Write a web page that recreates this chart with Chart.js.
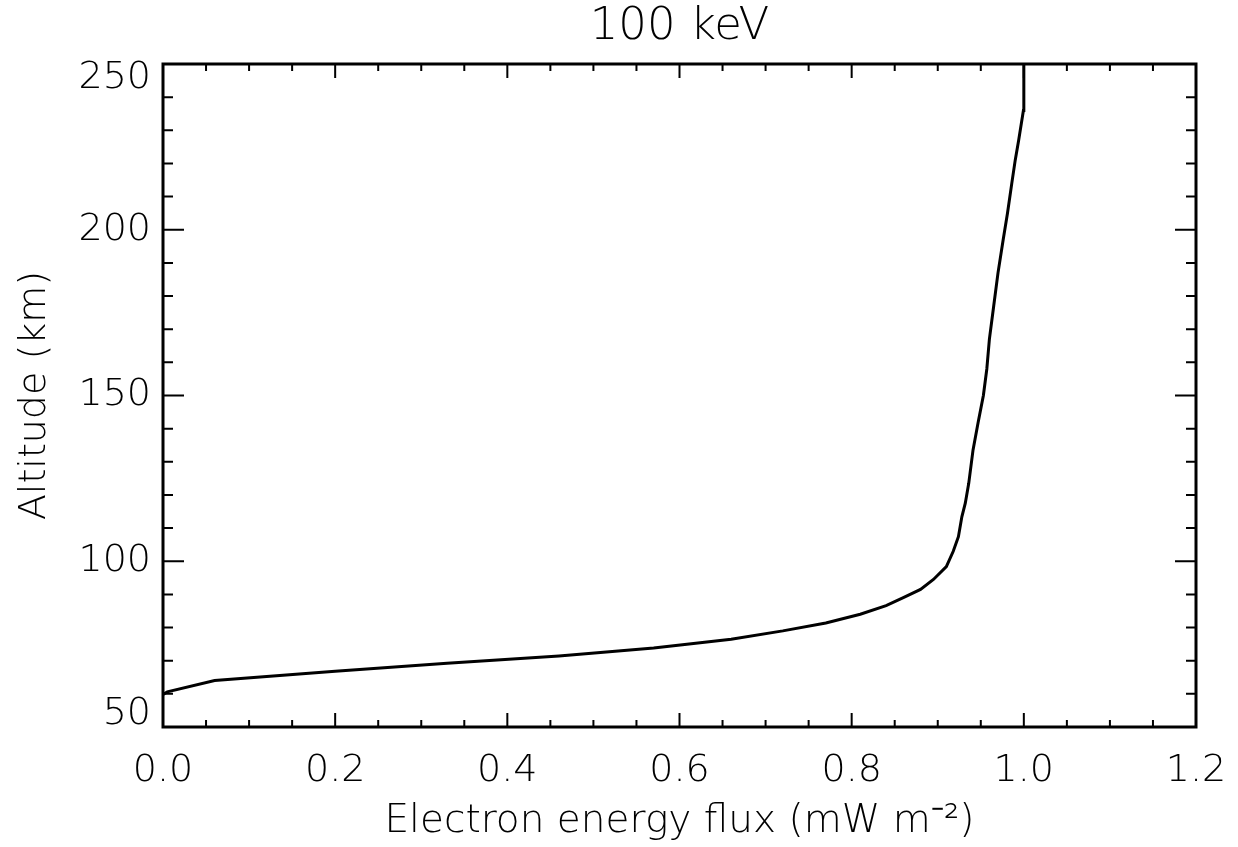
<!DOCTYPE html>
<html>
<head>
<meta charset="utf-8">
<script src="https://cdn.jsdelivr.net/npm/chart.js@4/dist/chart.umd.min.js"></script>
<style>
  html, body { margin: 0; padding: 0; background: #fff; }
  #wrap { width: 1238px; height: 847px; }
</style>
</head>
<body>
<div id="wrap"><canvas id="fluxChart"></canvas></div>
<script>
// energy flux profile, 100 keV beam
const flux = [0.0, 0.005, 0.06, 0.2, 0.33, 0.46, 0.57, 0.66, 0.72, 0.77, 0.81, 0.84, 0.86, 0.88, 0.895,
  0.91, 0.918, 0.924, 0.928, 0.932, 0.936, 0.941, 0.947, 0.953, 0.957, 0.960, 0.965, 0.970, 0.976,
  0.981, 0.986, 0.990, 0.994, 0.9995, 1.0];
const altitude = [59.8, 60.6, 64.0, 66.8, 69.2, 71.4, 73.8, 76.5, 79.0, 81.4, 84.0, 86.6, 89.0, 91.5, 94.5,
  98.4, 103, 107.4, 113.4, 117.5, 123.5, 133.6, 142, 150, 158, 167, 177, 187, 197,
  205, 214, 221, 227, 236, 250];

const xTicks = [0.0, 0.2, 0.4, 0.6, 0.8, 1.0, 1.2];
const yTicks = [50, 100, 150, 200, 250];
const titleText = "100 keV";

const FONT = "'DejaVu Sans', sans-serif";
const WEIGHT = "200";

// box frame with inward ticks on all four sides, y labels kept inside the box height, title over the plot
const frameTicks = {
  id: "frameTicks",
  afterDraw(chart) {
    const { ctx, chartArea: a } = chart;
    const xs = chart.scales.x, ys = chart.scales.y;
    ctx.save();
    ctx.strokeStyle = "#000";
    ctx.lineWidth = 3;
    ctx.strokeRect(a.left, a.top, a.right - a.left, a.bottom - a.top);
    ctx.lineWidth = 2;
    ctx.beginPath();
    for (let i = 0; i <= 24; i++) {
      const px = xs.getPixelForValue(i * 0.05);
      const len = i % 4 === 0 ? 14 : 7;
      ctx.moveTo(px, a.bottom); ctx.lineTo(px, a.bottom - len);
      ctx.moveTo(px, a.top); ctx.lineTo(px, a.top + len);
    }
    for (let v = 50; v <= 250; v += 10) {
      const py = ys.getPixelForValue(v);
      const len = v % 50 === 0 ? 21 : 10;
      ctx.moveTo(a.left, py); ctx.lineTo(a.left + len, py);
      ctx.moveTo(a.right, py); ctx.lineTo(a.right - len, py);
    }
    ctx.stroke();

    ctx.fillStyle = "#000";
    ctx.font = WEIGHT + " 38px " + FONT;
    ctx.textAlign = "right";
    ctx.textBaseline = "middle";
    yTicks.forEach((v) => {
      let py = ys.getPixelForValue(v);
      py = Math.min(Math.max(py, a.top + 14), a.bottom - 13);
      ctx.fillText(String(v), a.left - 12, py);
    });

    ctx.font = WEIGHT + " 45px " + FONT;
    ctx.textAlign = "center";
    ctx.fillText(titleText, (a.left + a.right) / 2, 27);
    ctx.restore();
  }
};

const ctx = document.getElementById("fluxChart").getContext("2d");

const fluxChart = new Chart(ctx, {
  type: "scatter",
  data: {
    datasets: [
      {
        data: flux.map((f, i) => ({ x: f, y: altitude[i] })),
        showLine: true,
        borderColor: "#000",
        borderWidth: 3,
        pointRadius: 0,
        tension: 0,
      },
    ],
  },
  options: {
    responsive: true,
    maintainAspectRatio: false,
    animation: false,
    layout: { padding: { left: 0, right: 42, top: 64, bottom: 2 } },
    plugins: {
      legend: { display: false },
      tooltip: { enabled: false },
      title: { display: false },
    },
    scales: {
      x: {
        type: "linear",
        min: 0,
        max: 1.2,
        grid: { display: false },
        border: { display: false },
        afterBuildTicks: (s) => { s.ticks = xTicks.map((v) => ({ value: v })); },
        afterFit: (s) => { s.height = 118; s.paddingLeft = 0; s.paddingRight = 0; },
        ticks: {
          color: "#000",
          padding: 13,
          maxRotation: 0,
          font: { family: FONT, size: 38, weight: WEIGHT },
          callback: (v) => Number(v).toFixed(1),
        },
        title: {
          display: true,
          text: "Electron energy flux (mW m\u207B\u00B2)",
          color: "#000",
          font: { family: FONT, size: 39, weight: WEIGHT, lineHeight: 1.2 },
          padding: { top: 0, bottom: 0 },
        },
      },
      y: {
        type: "linear",
        min: 50,
        max: 250,
        grid: { display: false },
        border: { display: false },
        afterBuildTicks: (s) => { s.ticks = yTicks.map((v) => ({ value: v })); },
        afterFit: (s) => { s.width = 163; s.paddingTop = 0; s.paddingBottom = 0; },
        ticks: { display: false },
        title: {
          display: true,
          text: "Altitude (km)",
          color: "#000",
          font: { family: FONT, size: 38, weight: WEIGHT, lineHeight: 1.2 },
          padding: { top: 12, bottom: 0 },
        },
      },
    },
  },
  plugins: [frameTicks],
});
</script>
</body>
</html>
